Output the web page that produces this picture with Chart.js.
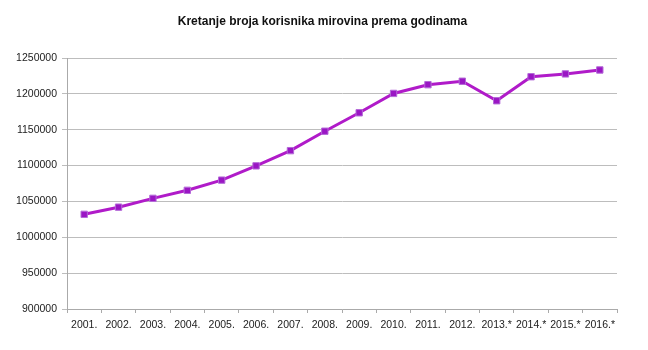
<!DOCTYPE html>
<html lang="hr">
<head>
  <meta charset="UTF-8">
  <title>Kretanje broja korisnika mirovina prema godinama</title>
  <script src="https://cdn.jsdelivr.net/npm/chart.js"></script>
  <style>
    html, body { margin: 0; padding: 0; background: #fff; }
    #wrap { width: 648px; height: 350px; }
  </style>
</head>
<body>
  <div id="wrap"><canvas id="mirovine" width="648" height="350"></canvas></div>

  <script>
    const years = ['2001.', '2002.', '2003.', '2004.', '2005.', '2006.', '2007.', '2008.',
                   '2009.', '2010.', '2011.', '2012.', '2013.*', '2014.*', '2015.*', '2016.*'];
    const korisnici = [1032000, 1042000, 1054300, 1065500, 1079700, 1099600, 1120800, 1147900,
                       1173600, 1200600, 1212800, 1217600, 1190400, 1223900, 1227800, 1233300];

    const ctx = document.getElementById('mirovine').getContext('2d');
    new Chart(ctx, {
      type: 'line',
      data: {
        labels: years,
        datasets: [{
          label: 'Broj korisnika',
          data: korisnici,
          borderColor: '#b01bc9',
          borderWidth: 3,
          pointStyle: 'rect',
          pointRadius: 4.5,
          pointBackgroundColor: '#9a16c4',
          pointBorderColor: '#b46ad8',
          pointBorderWidth: 1,
          tension: 0,
          fill: false
        }]
      },
      options: {
        responsive: false,
        animation: false,
        layout: { padding: { left: 0, right: 3, top: 0, bottom: 0 } },
        plugins: {
          legend: { display: false },
          tooltip: { enabled: false },
          title: {
            display: true,
            text: 'Kretanje broja korisnika mirovina prema godinama',
            color: '#111',
            font: { family: 'Liberation Sans', size: 12, weight: 'bold' },
            padding: { top: 14.5, bottom: 29.1 }
          }
        },
        scales: {
          x: {
            offset: true,
            grid: { drawOnChartArea: false, drawTicks: true, tickLength: 4, color: '#aaa', offset: true },
            border: { color: '#aaa', width: 1 },
            ticks: {
              color: '#222',
              font: { family: 'Liberation Sans', size: 10.5 },
              padding: 6,
              maxRotation: 0,
              autoSkip: false
            },
            afterFit: (scale) => { scale.height = 41; }
          },
          y: {
            min: 900000,
            max: 1250000,
            grid: { color: '#bdbdbd', lineWidth: 1, drawTicks: true, tickLength: 5 },
            border: { color: '#aaa', width: 1 },
            ticks: {
              stepSize: 50000,
              color: '#222',
              font: { family: 'Liberation Sans', size: 10.5 },
              padding: 5,
              callback: (v) => String(v)
            },
            afterFit: (scale) => { scale.width = 67; }
          },
          // empty right-hand spacer so the plot ends at x=617 while the title stays centred on the page
          spacer: {
            position: 'right',
            display: true,
            grid: { display: false },
            border: { display: false },
            ticks: { display: false },
            afterFit: (scale) => { scale.width = 28; }
          }
        }
      }
    });
  </script>
</body>
</html>
